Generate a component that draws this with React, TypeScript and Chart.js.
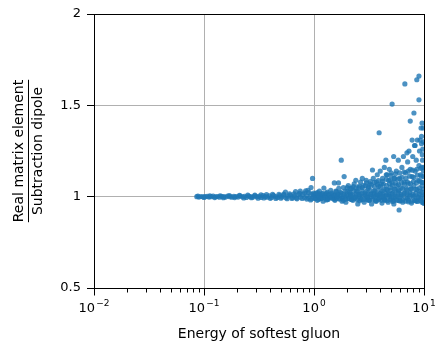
import React, { useEffect, useRef } from "react";
import { Chart, registerables } from "chart.js";

Chart.register(...registerables);

const xMajorTicks = [0.01, 0.1, 1, 10];
const xTickExponents = ["\u22122", "\u22121", "0", "1"];
const xMinorMultipliers = [2, 3, 4, 5, 6, 7, 8, 9];
const yTicks = [0.5, 1, 1.5, 2];
const xTitle = "Energy of softest gluon";
const yTitleNumerator = "Real matrix element";
const yTitleDenominator = "Subtraction dipole";

// [energy of softest gluon, real / dipole]
const softBand: [number, number][] = [
  [0.086, 1.0], [0.09, 0.998], [0.094, 1.001], [0.098, 0.999], [0.102, 1.0], [0.107, 1.002],
  [0.111, 0.998], [0.116, 1.0], [0.121, 1.003], [0.127, 0.999], [0.132, 1.001], [0.138, 0.997],
  [0.144, 1.002], [0.151, 1.0], [0.157, 0.998], [0.164, 1.003], [0.172, 1.0], [0.179, 0.997],
  [0.187, 1.002], [0.196, 1.001], [0.204, 0.998], [0.213, 1.004], [0.223, 0.999], [0.233, 1.002],
  [0.243, 0.996], [0.254, 1.003], [0.265, 1.0], [0.277, 0.997], [0.289, 1.005], [0.302, 0.999],
  [0.316, 1.002], [0.33, 0.996], [0.344, 1.006], [0.36, 1.0], [0.376, 0.997], [0.392, 1.004],
  [0.41, 0.995], [0.428, 1.007], [0.447, 1.0], [0.467, 0.996], [0.488, 1.006], [0.51, 0.998],
  [0.532, 1.008], [0.556, 0.994], [0.581, 1.003], [0.607, 1.009], [0.634, 0.995], [0.662, 1.004],
  [0.691, 0.993], [0.722, 1.01], [0.754, 0.997], [0.788, 1.012], [0.823, 0.994], [0.86, 1.006],
  [0.898, 0.992], [0.938, 1.013], [0.98, 0.998],
];

const softSpread: [number, number][] = [
  [0.088, 1.003], [0.1, 0.996], [0.113, 1.004], [0.125, 0.995], [0.14, 1.005],
  [0.15, 0.994], [0.17, 1.006], [0.19, 0.995], [0.21, 1.007], [0.23, 0.993], [0.25, 1.008],
  [0.27, 0.994], [0.29, 1.009], [0.31, 0.992], [0.33, 1.01], [0.35, 0.993], [0.37, 1.011],
  [0.4, 0.991], [0.42, 1.012], [0.45, 0.99], [0.48, 1.013], [0.5, 0.992], [0.53, 1.014],
  [0.57, 0.989], [0.6, 1.015], [0.63, 0.99], [0.66, 1.016], [0.7, 0.988], [0.74, 1.018],
  [0.78, 0.99], [0.82, 1.02], [0.86, 0.987], [0.9, 1.022], [0.95, 0.988], [0.99, 1.02],
  [0.55, 1.025], [0.68, 1.028], [0.75, 1.03], [0.84, 1.032], [0.93, 0.982], [0.88, 1.035],
  [0.97, 1.1], [0.94, 1.05],
];

const hardBand: [number, number][] = [
  [1.03, 1.0], [1.13, 0.995], [1.25, 1.005], [1.37, 0.995], [1.5, 1.0], [1.64, 1.005],
  [1.8, 0.995], [1.97, 1.0], [2.15, 1.005], [2.35, 0.995], [2.57, 1.0], [2.8, 1.005],
  [3.06, 0.995], [3.35, 1.0], [3.66, 1.005], [4.0, 0.995], [4.37, 1.0], [4.78, 1.005],
  [5.22, 0.995], [5.7, 1.0], [6.23, 1.005], [6.8, 0.995], [7.43, 1.0], [8.12, 1.005],
  [8.87, 0.995], [9.7, 1.0],
  [1.08, 1.022], [1.2, 1.018], [1.32, 1.025], [1.45, 1.02], [1.6, 1.028], [1.75, 1.022],
  [1.92, 1.03], [2.1, 1.025], [2.3, 1.032], [2.5, 1.026], [2.72, 1.034], [2.96, 1.028],
  [3.22, 1.036], [3.5, 1.03], [3.82, 1.038], [4.16, 1.032], [4.54, 1.04], [4.95, 1.034],
  [5.4, 1.042], [5.9, 1.036], [6.4, 1.044], [7.0, 1.038], [7.65, 1.046], [8.35, 1.04],
  [9.1, 1.048], [9.9, 1.042],
  [1.1, 0.985], [1.3, 0.982], [1.55, 0.986], [1.85, 0.98], [2.2, 0.984], [2.6, 0.978],
  [3.1, 0.982], [3.7, 0.976], [4.4, 0.98], [5.2, 0.974], [6.1, 0.978], [7.2, 0.972],
  [8.5, 0.976], [9.6, 0.97],
];

const hardDense: [number, number][] = [
  [1.0, 1.012], [1.065, 1.008], [1.13, 1.013], [1.2, 1.006], [1.28, 1.014], [1.36, 1.009],
  [1.45, 1.012], [1.55, 1.007], [1.65, 1.015], [1.75, 1.008], [1.87, 1.013], [1.99, 1.01],
  [2.12, 1.016], [2.25, 1.009], [2.4, 1.014], [2.56, 1.011], [2.72, 1.017], [2.9, 1.01],
  [3.09, 1.015], [3.29, 1.012], [3.5, 1.018], [3.73, 1.011], [3.97, 1.016], [4.23, 1.013],
  [4.5, 1.02], [4.8, 1.012], [5.1, 1.017], [5.44, 1.014], [5.79, 1.021], [6.17, 1.013],
  [6.57, 1.018], [7.0, 1.015], [7.45, 1.022], [7.93, 1.014], [8.45, 1.019], [9.0, 1.016],
  [9.58, 1.023],
  [1.03, 0.992], [1.1, 0.996], [1.17, 0.99], [1.24, 0.994], [1.32, 0.989], [1.41, 0.993],
  [1.5, 0.988], [1.6, 0.992], [1.7, 0.987], [1.81, 0.991], [1.93, 0.986], [2.05, 0.99],
  [2.18, 0.985], [2.33, 0.989], [2.48, 0.984], [2.64, 0.988], [2.81, 0.983], [2.99, 0.987],
  [3.19, 0.982], [3.4, 0.986], [3.62, 0.981], [3.85, 0.985], [4.1, 0.98], [4.37, 0.984],
  [4.65, 0.979], [4.95, 0.983], [5.27, 0.978], [5.62, 0.982], [5.98, 0.977], [6.37, 0.981],
  [6.78, 0.976], [7.22, 0.98], [7.69, 0.975], [8.19, 0.979], [8.72, 0.974], [9.29, 0.978],
  [9.9, 0.973],
  [2.0, 1.05], [2.13, 1.045], [2.27, 1.055], [2.42, 1.048], [2.58, 1.058], [2.75, 1.05],
  [2.93, 1.06], [3.12, 1.053], [3.32, 1.063], [3.54, 1.055], [3.77, 1.066], [4.01, 1.058],
  [4.27, 1.069], [4.55, 1.06], [4.85, 1.072], [5.16, 1.063], [5.5, 1.075], [5.86, 1.066],
  [6.24, 1.078], [6.64, 1.069], [7.07, 1.08], [7.53, 1.072], [8.02, 1.083], [8.54, 1.075],
  [9.1, 1.086], [9.69, 1.078],
  [3.0, 1.075], [3.25, 1.082], [3.55, 1.078], [3.85, 1.088], [4.18, 1.084], [4.55, 1.095],
  [4.95, 1.09], [5.35, 1.1], [5.8, 1.096], [6.3, 1.106], [6.85, 1.1], [7.4, 1.112],
  [8.05, 1.106], [8.7, 1.118], [9.45, 1.112],
  [4.6, 1.12], [5.0, 1.115], [5.5, 1.125], [6.0, 1.13], [6.6, 1.135], [7.2, 1.14],
  [7.85, 1.145], [8.6, 1.15], [9.35, 1.155], [9.95, 1.16],
];

const hardSpread: [number, number][] = [
  [1.0, 1.01], [1.02, 0.99], [1.05, 1.02], [1.07, 0.98], [1.1, 1.005], [1.12, 1.03],
  [1.15, 0.99], [1.18, 1.015], [1.21, 0.975], [1.23, 1.047], [1.27, 1.0], [1.3, 1.02],
  [1.34, 0.985], [1.38, 1.01], [1.42, 1.035], [1.46, 0.995],
  [1.53, 1.075], [1.52, 1.01], [1.55, 0.98], [1.58, 1.03], [1.62, 1.0], [1.67, 1.075],
  [1.68, 1.045], [1.72, 0.99], [1.76, 1.02], [1.8, 0.975], [1.85, 1.05], [1.88, 1.11],
  [1.9, 1.005], [1.95, 0.97], [2.0, 1.03], [2.05, 1.06], [2.1, 0.99], [2.15, 1.015],
  [2.2, 1.045], [2.26, 0.98], [2.32, 1.07], [2.38, 1.0], [2.4, 1.09], [2.44, 1.03], [2.5, 0.96],
  [2.55, 1.05], [2.6, 1.01], [2.65, 1.08], [2.7, 0.985], [2.75, 1.1], [2.8, 1.06],
  [2.86, 0.97], [2.92, 1.02], [2.98, 1.09], [3.04, 1.0], [3.1, 1.045], [3.16, 0.98],
  [3.22, 1.07], [3.28, 1.015], [3.34, 0.96], [3.4, 1.146], [3.46, 1.1], [3.52, 1.0],
  [3.58, 1.03], [3.64, 0.975], [3.7, 1.08], [3.76, 1.12], [3.82, 1.01], [3.88, 1.055],
  [3.94, 0.99], [4.0, 1.14],
  [4.05, 1.02], [4.1, 1.07], [4.15, 0.965], [4.2, 1.1], [4.25, 1.0], [4.3, 1.04],
  [4.36, 1.16], [4.42, 0.985], [4.5, 1.2], [4.54, 1.12], [4.6, 1.01], [4.66, 1.035],
  [4.72, 0.97], [4.78, 1.09], [4.84, 1.15], [4.9, 1.0], [4.96, 1.05], [5.02, 1.13],
  [5.08, 0.99], [5.14, 1.075], [5.2, 1.02], [5.3, 1.22], [5.32, 0.96], [5.4, 1.1],
  [5.46, 1.04], [5.52, 1.0], [5.6, 1.14], [5.68, 1.06], [5.76, 0.98], [5.84, 1.2], [5.9, 1.03],
  [6.0, 1.1], [6.1, 1.0], [6.2, 1.05], [6.3, 1.16], [6.4, 0.97], [6.5, 1.22], [6.6, 1.08],
  [6.7, 1.02], [6.8, 1.13], [6.9, 1.045], [7.0, 1.24], [7.05, 0.99], [7.1, 1.19], [7.2, 1.07],
  [7.3, 1.25], [7.4, 1.01], [7.5, 1.15], [7.6, 1.04], [7.7, 0.965], [7.8, 1.11], [7.9, 1.22],
  [8.0, 1.0], [8.1, 1.06], [8.2, 1.28], [8.3, 1.14], [8.4, 0.98], [8.5, 1.2], [8.6, 1.04],
  [8.7, 1.31], [8.8, 1.09], [8.9, 1.0], [9.0, 1.17], [9.1, 1.25], [9.2, 1.03], [9.3, 1.12],
  [9.4, 0.99], [9.5, 1.29], [9.6, 1.06], [9.7, 1.2], [9.8, 1.01], [9.9, 1.14], [9.95, 0.965],
  [9.85, 1.3], [9.75, 1.26], [9.65, 1.23], [9.55, 1.16], [9.45, 1.08], [9.9, 1.11],
];

const outliers: [number, number][] = [
  [1.77, 1.2], [3.91, 1.35], [5.13, 1.507], [5.94, 0.927], [9.0, 1.66], [8.6, 1.64],
  [6.7, 1.617], [9.0, 1.53], [8.1, 1.458], [7.5, 1.414], [9.6, 1.403], [9.4, 1.376],
  [9.5, 1.33], [9.2, 1.31], [7.8, 1.31], [8.3, 1.28], [9.8, 1.376], [9.9, 0.965],
];

const allPoints = [...softBand, ...softSpread, ...hardBand, ...hardDense, ...hardSpread, ...outliers];

const FONT = "DejaVu Sans";

const decorPlugin = {
  id: "decor",
  beforeDatasetsDraw(chart: any) {
    const { ctx, chartArea: a, scales } = chart;
    const xs = scales.x;
    ctx.save();
    ctx.strokeStyle = "#b0b0b0";
    ctx.lineWidth = 1;
    for (const v of xMajorTicks) {
      const px = Math.round(xs.getPixelForValue(v)) + 0.5;
      ctx.beginPath();
      ctx.moveTo(px, a.top);
      ctx.lineTo(px, a.bottom);
      ctx.stroke();
    }
    ctx.restore();
  },
  afterDraw(chart: any) {
    const { ctx, chartArea: a, scales } = chart;
    const xs = scales.x;
    ctx.save();
    ctx.strokeStyle = "#000";
    ctx.lineWidth = 1;
    ctx.strokeRect(Math.round(a.left) + 0.5, Math.round(a.top) + 0.5,
      Math.round(a.right) - Math.round(a.left), Math.round(a.bottom) - Math.round(a.top));
    const bottom = Math.round(a.bottom) + 0.5;
    ctx.beginPath();
    for (let i = 0; i < xMajorTicks.length; i++) {
      const v = xMajorTicks[i];
      const px = Math.round(xs.getPixelForValue(v)) + 0.5;
      ctx.moveTo(px, bottom);
      ctx.lineTo(px, bottom + 7);
      if (i < xMajorTicks.length - 1) {
        for (const m of xMinorMultipliers) {
          const mx = Math.round(xs.getPixelForValue(v * m)) + 0.5;
          ctx.moveTo(mx, bottom);
          ctx.lineTo(mx, bottom + 4);
        }
      }
    }
    ctx.stroke();
    ctx.fillStyle = "#000";
    ctx.textBaseline = "alphabetic";
    ctx.textAlign = "left";
    for (let i = 0; i < xMajorTicks.length; i++) {
      const px = xs.getPixelForValue(xMajorTicks[i]);
      ctx.font = `13px "${FONT}"`;
      const wBase = ctx.measureText("10").width;
      ctx.font = `9px "${FONT}"`;
      const wSup = ctx.measureText(xTickExponents[i]).width;
      const start = px - (wBase + wSup + 1) / 2;
      ctx.font = `13px "${FONT}"`;
      ctx.fillText("10", start, 312);
      ctx.font = `9px "${FONT}"`;
      ctx.fillText(xTickExponents[i], start + wBase + 1, 306);
    }
    ctx.font = `14px "${FONT}"`;
    ctx.textAlign = "center";
    ctx.fillText(xTitle, (a.left + a.right) / 2, 338);
    const cy = (a.top + a.bottom) / 2;
    ctx.translate(0, cy);
    ctx.rotate(-Math.PI / 2);
    ctx.textAlign = "center";
    ctx.fillText(yTitleNumerator, 0, 23);
    ctx.fillText(yTitleDenominator, 0, 42);
    const w = ctx.measureText(yTitleNumerator).width;
    ctx.beginPath();
    ctx.moveTo(-w / 2, 28.5);
    ctx.lineTo(w / 2, 28.5);
    ctx.stroke();
    ctx.restore();
  },
};

export default function App() {
  const ref = useRef<HTMLCanvasElement | null>(null);
  useEffect(() => {
    document.body.style.margin = "0";
    const canvas = ref.current;
    if (!canvas) return;
    Chart.defaults.font.family = FONT;
    const chart = new Chart(canvas, {
      type: "scatter",
      data: {
        datasets: [
          {
            data: allPoints.map(([x, y]) => ({ x, y })),
            backgroundColor: "rgba(31,119,180,0.8)",
            borderWidth: 0,
            pointRadius: 2.6,
            pointHoverRadius: 2.6,
            clip: 0,
          } as any,
        ],
      },
      plugins: [decorPlugin],
      options: {
        responsive: false,
        animation: false,
        events: [],
        layout: { padding: { top: 14, right: 11, left: 0, bottom: 0 } },
        plugins: { legend: { display: false }, tooltip: { enabled: false } },
        scales: {
          x: {
            type: "logarithmic",
            min: 0.01,
            max: 10,
            grid: { display: false },
            border: { display: false },
            ticks: { display: false },
            afterFit: (s: any) => { s.height = 55; },
          },
          y: {
            min: 0.5,
            max: 2,
            border: { display: false },
            grid: { color: "#b0b0b0", tickColor: "#000", tickLength: 7, lineWidth: 1 },
            ticks: {
              stepSize: 0.5,
              color: "#000",
              padding: 6,
              font: { size: 13, family: FONT },
              callback: (v: any) => (yTicks.includes(Number(v)) ? String(v) : ""),
            },
            afterFit: (s: any) => { s.width = 94; },
          },
        },
      },
    });
    return () => chart.destroy();
  }, []);
  return (
    <div style={{ width: 435, height: 343 }}>
      <canvas ref={ref} width={435} height={343} style={{ display: "block" }} />
    </div>
  );
}
